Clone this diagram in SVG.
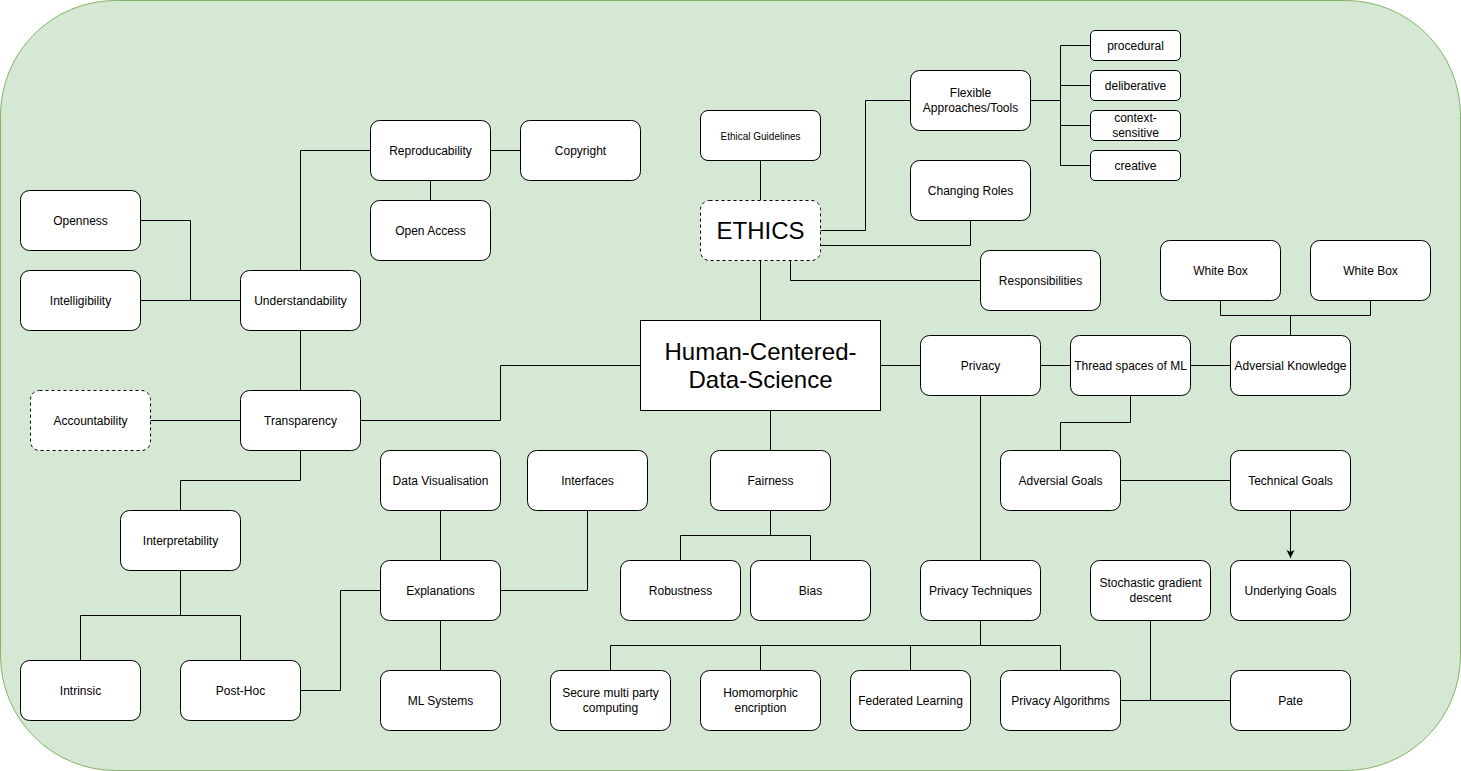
<svg xmlns="http://www.w3.org/2000/svg" width="1461" height="771" viewBox="0 0 1461 771">
<style>
.n{fill:#fff;stroke:#000;stroke-width:1}
.d{stroke-dasharray:3 3}
.t{font-family:"Liberation Sans",Arial,sans-serif;font-size:12px;fill:#000;text-anchor:middle}
.s{font-size:10px}
.b{font-size:24px}
#edges path{fill:none;stroke:#000;stroke-width:1}
</style>
<defs>
<marker id="arr" markerWidth="10" markerHeight="10" refX="8" refY="5" orient="auto" markerUnits="userSpaceOnUse">
<path d="M0,1 L8,5 L0,9 L2,5 Z" fill="#000"/>
</marker>
</defs>
<rect x="0.5" y="0.5" width="1460" height="770" rx="115" ry="115" fill="#d5e8d4" stroke="#82b366"/>
<g id="edges">
<path d="M760.5,160 V200"/>
<path d="M760.5,260 V320"/>
<path d="M820,230.5 H865.5 V100.5 H910"/>
<path d="M820,245.5 H970.5 V220"/>
<path d="M790.5,260 V280.5 H980"/>
<path d="M1030,100.5 H1060.5"/>
<path d="M1060.5,45.5 V165.5"/>
<path d="M1060.5,45.5 H1090 M1060.5,85.5 H1090 M1060.5,125.5 H1090 M1060.5,165.5 H1090"/>
<path d="M880,365.5 H920"/>
<path d="M1040,365.5 H1070"/>
<path d="M1190,365.5 H1230"/>
<path d="M1220.5,300 V315.5 H1370.5 V300 M1290.5,315.5 V335"/>
<path d="M1130.5,395 V422.5 H1060.5 V450"/>
<path d="M1120,480.5 H1230"/>
<path d="M1290.5,510 V558" marker-end="url(#arr)"/>
<path d="M1120,700.5 H1230 M1150.5,620 V700.5"/>
<path d="M980.5,395 V560"/>
<path d="M980.5,620 V645.5 M610.5,645.5 H1060.5 M610.5,645.5 V670 M760.5,645.5 V670 M910.5,645.5 V670 M1060.5,645.5 V670"/>
<path d="M770.5,410 V450"/>
<path d="M770.5,510 V535.5 M680.5,535.5 H810.5 M680.5,535.5 V560 M810.5,535.5 V560"/>
<path d="M490,150.5 H520"/>
<path d="M430.5,180 V200"/>
<path d="M300.5,270 V150.5 H370"/>
<path d="M140,220.5 H190.5 V300.5 M140,300.5 H240"/>
<path d="M300.5,330 V390"/>
<path d="M150,420.5 H240"/>
<path d="M360,420.5 H500.5 V365.5 H640"/>
<path d="M300.5,450 V480.5 H180.5 V510"/>
<path d="M80.5,660 V615.5 H240.5 V660 M180.5,570 V615.5"/>
<path d="M440.5,510 V560"/>
<path d="M440.5,620 V670"/>
<path d="M500,590.5 H587.5 V510"/>
<path d="M300,690.5 H340.5 V590.5 H380"/>
</g>
<g id="ethical-guidelines"><rect class="n" x="700.5" y="110.5" width="120" height="50" rx="7.5"/><text class="t s" x="760.5" y="139.5">Ethical Guidelines</text></g>
<g id="ethics"><rect class="n d" x="700.5" y="200.5" width="120" height="60" rx="9"/><text class="t b" x="760.5" y="239">ETHICS</text></g>
<g id="flexible"><rect class="n" x="910.5" y="70.5" width="120" height="60" rx="9"/><text class="t" x="970.5" y="97">Flexible</text><text class="t" x="970.5" y="112">Approaches/Tools</text></g>
<g id="changing-roles"><rect class="n" x="910.5" y="160.5" width="120" height="60" rx="9"/><text class="t" x="970.5" y="195">Changing Roles</text></g>
<g id="responsibilities"><rect class="n" x="980.5" y="250.5" width="120" height="60" rx="9"/><text class="t" x="1040.5" y="285">Responsibilities</text></g>
<g id="procedural"><rect class="n" x="1090.5" y="30.5" width="90" height="30" rx="4.5"/><text class="t" x="1135.5" y="50">procedural</text></g>
<g id="deliberative"><rect class="n" x="1090.5" y="70.5" width="90" height="30" rx="4.5"/><text class="t" x="1135.5" y="90">deliberative</text></g>
<g id="context-sensitive"><rect class="n" x="1090.5" y="110.5" width="90" height="30" rx="4.5"/><text class="t" x="1135.5" y="122">context-</text><text class="t" x="1135.5" y="137">sensitive</text></g>
<g id="creative"><rect class="n" x="1090.5" y="150.5" width="90" height="30" rx="4.5"/><text class="t" x="1135.5" y="170">creative</text></g>
<g id="hcds"><rect class="n" x="640.5" y="320.5" width="240" height="90"/><text class="t b" x="760.5" y="360">Human-Centered-</text><text class="t b" x="760.5" y="388">Data-Science</text></g>
<g id="privacy"><rect class="n" x="920.5" y="335.5" width="120" height="60" rx="9"/><text class="t" x="980.5" y="370">Privacy</text></g>
<g id="thread-spaces"><rect class="n" x="1070.5" y="335.5" width="120" height="60" rx="9"/><text class="t" x="1130.5" y="370">Thread spaces of ML</text></g>
<g id="adversial-knowledge"><rect class="n" x="1230.5" y="335.5" width="120" height="60" rx="9"/><text class="t" x="1290.5" y="370">Adversial Knowledge</text></g>
<g id="white-box-1"><rect class="n" x="1160.5" y="240.5" width="120" height="60" rx="9"/><text class="t" x="1220.5" y="275">White Box</text></g>
<g id="white-box-2"><rect class="n" x="1310.5" y="240.5" width="120" height="60" rx="9"/><text class="t" x="1370.5" y="275">White Box</text></g>
<g id="adversial-goals"><rect class="n" x="1000.5" y="450.5" width="120" height="60" rx="9"/><text class="t" x="1060.5" y="485">Adversial Goals</text></g>
<g id="technical-goals"><rect class="n" x="1230.5" y="450.5" width="120" height="60" rx="9"/><text class="t" x="1290.5" y="485">Technical Goals</text></g>
<g id="underlying-goals"><rect class="n" x="1230.5" y="560.5" width="120" height="60" rx="9"/><text class="t" x="1290.5" y="595">Underlying Goals</text></g>
<g id="sgd"><rect class="n" x="1090.5" y="560.5" width="120" height="60" rx="9"/><text class="t" x="1150.5" y="587">Stochastic gradient</text><text class="t" x="1150.5" y="602">descent</text></g>
<g id="pate"><rect class="n" x="1230.5" y="670.5" width="120" height="60" rx="9"/><text class="t" x="1290.5" y="705">Pate</text></g>
<g id="privacy-techniques"><rect class="n" x="920.5" y="560.5" width="120" height="60" rx="9"/><text class="t" x="980.5" y="595">Privacy Techniques</text></g>
<g id="secure-mpc"><rect class="n" x="550.5" y="670.5" width="120" height="60" rx="9"/><text class="t" x="610.5" y="697">Secure multi party</text><text class="t" x="610.5" y="712">computing</text></g>
<g id="homomorphic"><rect class="n" x="700.5" y="670.5" width="120" height="60" rx="9"/><text class="t" x="760.5" y="697">Homomorphic</text><text class="t" x="760.5" y="712">encription</text></g>
<g id="federated"><rect class="n" x="850.5" y="670.5" width="120" height="60" rx="9"/><text class="t" x="910.5" y="705">Federated Learning</text></g>
<g id="privacy-algorithms"><rect class="n" x="1000.5" y="670.5" width="120" height="60" rx="9"/><text class="t" x="1060.5" y="705">Privacy Algorithms</text></g>
<g id="fairness"><rect class="n" x="710.5" y="450.5" width="120" height="60" rx="9"/><text class="t" x="770.5" y="485">Fairness</text></g>
<g id="robustness"><rect class="n" x="620.5" y="560.5" width="120" height="60" rx="9"/><text class="t" x="680.5" y="595">Robustness</text></g>
<g id="bias"><rect class="n" x="750.5" y="560.5" width="120" height="60" rx="9"/><text class="t" x="810.5" y="595">Bias</text></g>
<g id="reproducability"><rect class="n" x="370.5" y="120.5" width="120" height="60" rx="9"/><text class="t" x="430.5" y="155">Reproducability</text></g>
<g id="copyright"><rect class="n" x="520.5" y="120.5" width="120" height="60" rx="9"/><text class="t" x="580.5" y="155">Copyright</text></g>
<g id="open-access"><rect class="n" x="370.5" y="200.5" width="120" height="60" rx="9"/><text class="t" x="430.5" y="235">Open Access</text></g>
<g id="understandability"><rect class="n" x="240.5" y="270.5" width="120" height="60" rx="9"/><text class="t" x="300.5" y="305">Understandability</text></g>
<g id="openness"><rect class="n" x="20.5" y="190.5" width="120" height="60" rx="9"/><text class="t" x="80.5" y="225">Openness</text></g>
<g id="intelligibility"><rect class="n" x="20.5" y="270.5" width="120" height="60" rx="9"/><text class="t" x="80.5" y="305">Intelligibility</text></g>
<g id="transparency"><rect class="n" x="240.5" y="390.5" width="120" height="60" rx="9"/><text class="t" x="300.5" y="425">Transparency</text></g>
<g id="accountability"><rect class="n d" x="30.5" y="390.5" width="120" height="60" rx="9"/><text class="t" x="90.5" y="425">Accountability</text></g>
<g id="interpretability"><rect class="n" x="120.5" y="510.5" width="120" height="60" rx="9"/><text class="t" x="180.5" y="545">Interpretability</text></g>
<g id="intrinsic"><rect class="n" x="20.5" y="660.5" width="120" height="60" rx="9"/><text class="t" x="80.5" y="695">Intrinsic</text></g>
<g id="post-hoc"><rect class="n" x="180.5" y="660.5" width="120" height="60" rx="9"/><text class="t" x="240.5" y="695">Post-Hoc</text></g>
<g id="data-visualisation"><rect class="n" x="380.5" y="450.5" width="120" height="60" rx="9"/><text class="t" x="440.5" y="485">Data Visualisation</text></g>
<g id="interfaces"><rect class="n" x="527.5" y="450.5" width="120" height="60" rx="9"/><text class="t" x="587.5" y="485">Interfaces</text></g>
<g id="explanations"><rect class="n" x="380.5" y="560.5" width="120" height="60" rx="9"/><text class="t" x="440.5" y="595">Explanations</text></g>
<g id="ml-systems"><rect class="n" x="380.5" y="670.5" width="120" height="60" rx="9"/><text class="t" x="440.5" y="705">ML Systems</text></g>
</svg>
